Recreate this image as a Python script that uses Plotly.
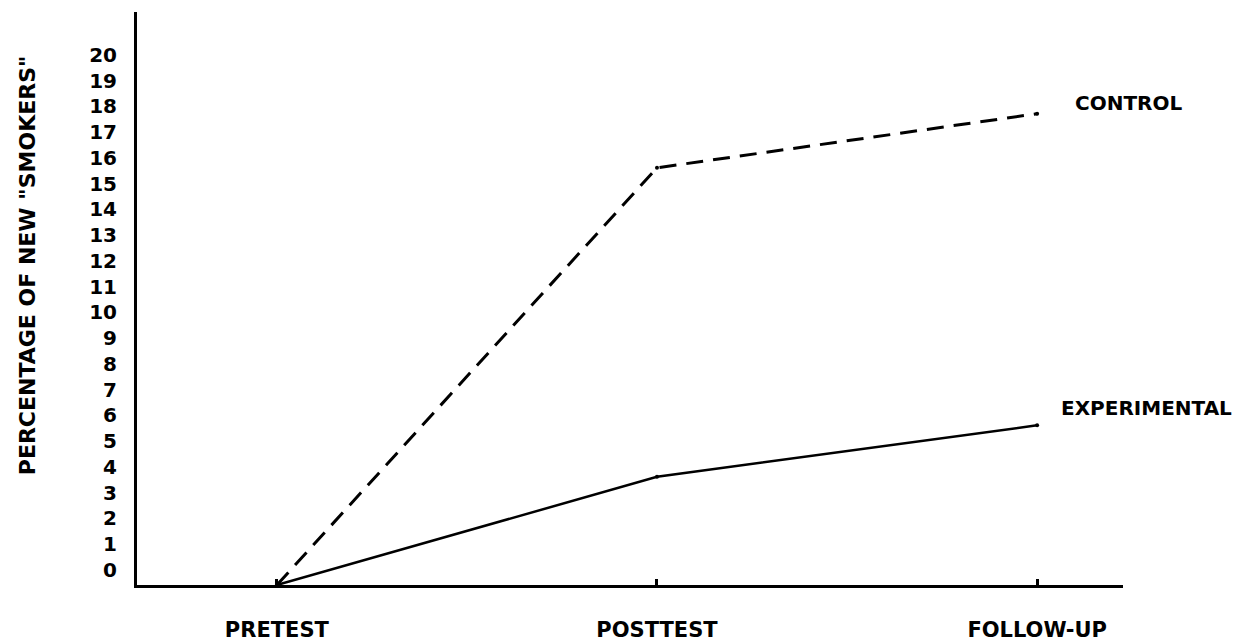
import plotly.graph_objects as go

phases = ["PRETEST", "POSTTEST", "FOLLOW-UP"]
phase_pos = [0, 1, 2]
control = [0, 16.2, 18.3]
experimental = [0, 4.2, 6.2]
y_ticks = list(range(0, 21))
series_labels = ["CONTROL", "EXPERIMENTAL"]
y_title = 'PERCENTAGE OF NEW "SMOKERS"'

FONT = "DejaVu Sans"
fig = go.Figure()
fig.add_trace(go.Scatter(
    x=phase_pos, y=control, mode="lines+markers",
    line=dict(color="black", width=3, dash="17px,10px"),
    marker=dict(size=4, color="black"),
    cliponaxis=False, showlegend=False, name=series_labels[0]))
fig.add_trace(go.Scatter(
    x=phase_pos, y=experimental, mode="lines+markers",
    line=dict(color="black", width=2.5),
    marker=dict(size=4, color="black"),
    cliponaxis=False, showlegend=False, name=series_labels[1]))

fig.add_annotation(x=phase_pos[2], y=control[2], text="<b>%s</b>" % series_labels[0],
                   xref="x", yref="y", xanchor="left", yanchor="middle",
                   xshift=36, yshift=11, showarrow=False,
                   font=dict(family=FONT, size=20, color="black"))
fig.add_annotation(x=phase_pos[2], y=experimental[2], text="<b>%s</b>" % series_labels[1],
                   xref="x", yref="y", xanchor="left", yanchor="middle",
                   xshift=22, yshift=17, showarrow=False,
                   font=dict(family=FONT, size=20, color="black"))
fig.add_annotation(x=-0.1116, y=0.558, xref="paper", yref="paper",
                   text="<b>%s</b>" % y_title, textangle=-90, showarrow=False,
                   xanchor="center", yanchor="middle",
                   font=dict(family=FONT, size=22, color="black"))

fig.update_layout(
    width=1254, height=641,
    margin=dict(l=129, r=139, t=4, b=64, autoexpand=False),
    paper_bgcolor="white", plot_bgcolor="white",
    xaxis=dict(range=[-0.368, 2.226], tickvals=phase_pos,
               ticktext=["<b>%s</b>" % p for p in phases],
               showline=True, linecolor="black", linewidth=3,
               ticks="inside", ticklen=6, tickwidth=3, tickcolor="black",
               showgrid=False, zeroline=False, ticklabelstandoff=24,
               automargin=False,
               tickfont=dict(family=FONT, size=21, color="black")),
    yaxis=dict(range=[0, 22.25], tickvals=y_ticks,
               ticktext=["<b>%d</b>" % v for v in y_ticks],
               showline=True, linecolor="black", linewidth=3,
               ticks="", showgrid=False, zeroline=False,
               ticklabelstandoff=13, ticklabelshift=-15,
               automargin=False,
               tickfont=dict(family=FONT, size=20, color="black")),
)
fig.write_html("out.html")
